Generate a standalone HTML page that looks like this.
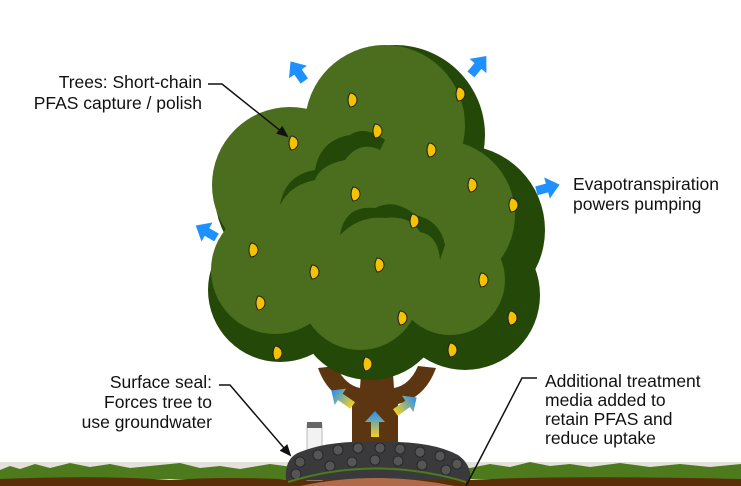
<!DOCTYPE html>
<html><head><style>
html,body{margin:0;padding:0;background:#fff;}
svg{display:block;}
text{font-family:"Liberation Sans",Arial,sans-serif;font-size:17.5px;fill:#111;}
</style></head><body>
<svg width="741" height="486" viewBox="0 0 741 486" xmlns="http://www.w3.org/2000/svg">
<defs>
<linearGradient id="ga" x1="0" y1="0" x2="0" y2="1"><stop offset="0" stop-color="#1e90ff"/><stop offset="1" stop-color="#f5d020"/></linearGradient>
<marker id="ah" markerWidth="12" markerHeight="10" refX="10" refY="5" orient="auto" markerUnits="userSpaceOnUse"><path d="M0,0 L12,5 L0,10 z" fill="#111"/></marker>
<g id="bl"><path d="M0,-13 L11,0 L4.5,0 L4.5,11 L-4.5,11 L-4.5,0 L-11,0 z" fill="#1e90ff"/></g>
<g id="gr"><path d="M0,-13 L10,-2 L4,-2 L4,13 L-4,13 L-4,-2 L-10,-2 z" fill="url(#ga)"/></g>
<path id="lf" d="M0,-7 A7,7 0 0 1 0,7 Q-4,0 0,-7 z" fill="#f5c200" stroke="#222" stroke-width="1"/>
</defs>
<rect width="741" height="486" fill="#fff"/>
<!-- ground -->
<rect x="0" y="462" width="741" height="24" fill="#e4e0dc"/>
<path d="M0,470 L10,466 L20,469 L35,464 L50,468 L70,463 L90,467 L110,464 L130,468 L160,465 L180,463 L200,468 L220,466 L240,469 L270,464 L300,468 L470,468 L490,464 L510,467 L530,462 L550,466 L570,464 L590,467 L620,463 L650,467 L680,464 L710,467 L741,464 L741,479 L0,479 z" fill="#4e7a1e"/>
<path d="M0,479 Q100,475 170,480 Q230,476 300,480 L470,480 Q560,475 741,479 L741,486 L0,486 z" fill="#5a2e08"/>
<!-- trunk -->
<path d="M352,455 L352,402 Q328,396 318,368 L336,366 Q345,385 360,388 L362,360 L392,360 L394,388 Q410,385 418,366 L436,368 Q425,398 398,404 L398,455 z" fill="#5c3511"/>
<!-- canopy dark -->
<g fill="#234808">
<circle cx="395" cy="135" r="90"/>
<circle cx="300" cy="195" r="85"/>
<circle cx="460" cy="230" r="85"/>
<circle cx="280" cy="290" r="72"/>
<circle cx="370" cy="305" r="75"/>
<circle cx="465" cy="295" r="75"/>
<circle cx="370" cy="230" r="80"/>
</g>
<!-- canopy light -->
<g fill="#4a6e1e">
<circle cx="385" cy="125" r="80"/>
<circle cx="290" cy="185" r="78"/>
<circle cx="440" cy="215" r="75"/>
<circle cx="275" cy="270" r="64"/>
<circle cx="360" cy="290" r="60"/>
<circle cx="450" cy="280" r="55"/>
<circle cx="360" cy="225" r="70"/>
</g>
<!-- inner dark scallops -->
<path d="M280,205 Q285,175 315,170 Q320,140 350,135 Q365,125 385,140 L380,150 Q360,140 345,160 Q320,165 315,180 Q290,185 280,205z" fill="#234808"/>
<path d="M340,235 Q345,205 375,208 Q395,198 415,215 Q440,220 445,245 L440,260 Q438,235 420,232 Q410,215 385,218 Q360,215 340,235z" fill="#234808"/>
<!-- leaves -->
<g>
<use href="#lf" x="350" y="100"/><use href="#lf" x="458" y="94"/><use href="#lf" x="291" y="143"/>
<use href="#lf" x="375" y="131"/><use href="#lf" x="429" y="150"/><use href="#lf" x="353" y="194"/>
<use href="#lf" x="470" y="185"/><use href="#lf" x="511" y="205"/><use href="#lf" x="412" y="221"/>
<use href="#lf" x="251" y="250"/><use href="#lf" x="312" y="272"/><use href="#lf" x="377" y="265"/>
<use href="#lf" x="481" y="280"/><use href="#lf" x="258" y="303"/><use href="#lf" x="400" y="318"/>
<use href="#lf" x="510" y="318"/><use href="#lf" x="275" y="353"/><use href="#lf" x="365" y="364"/>
<use href="#lf" x="450" y="350"/>
</g>
<!-- gradient arrows in trunk -->
<use href="#gr" transform="translate(375,424)"/>
<use href="#gr" transform="translate(342,398) rotate(-55)"/>
<use href="#gr" transform="translate(406,405) rotate(55)"/>
<!-- blue arrows -->
<use href="#bl" transform="translate(298,72) rotate(-35)"/>
<use href="#bl" transform="translate(478,66) rotate(40)"/>
<use href="#bl" transform="translate(547,188) rotate(75)"/>
<use href="#bl" transform="translate(207,232) rotate(-60)"/>
<!-- pipe -->
<rect x="307" y="425" width="15" height="55" fill="#f2f2f2" stroke="#bbb"/>
<rect x="307" y="422" width="15" height="6" fill="#666"/>
<!-- rocks -->
<path d="M286,480 Q284,458 300,452 Q330,440 375,442 Q430,440 458,455 Q472,465 470,480 z" fill="#3a3a3c"/>
<g fill="#555" stroke="#222" stroke-width="0.8">
<circle cx="300" cy="462" r="5"/><circle cx="318" cy="455" r="5"/><circle cx="338" cy="450" r="5"/><circle cx="358" cy="448" r="5"/><circle cx="380" cy="448" r="5"/><circle cx="400" cy="449" r="5"/><circle cx="420" cy="452" r="5"/><circle cx="440" cy="456" r="5"/><circle cx="457" cy="464" r="5"/>
<circle cx="296" cy="474" r="5"/><circle cx="330" cy="466" r="5"/><circle cx="352" cy="462" r="5"/><circle cx="375" cy="460" r="5"/><circle cx="398" cy="461" r="5"/><circle cx="422" cy="465" r="5"/><circle cx="446" cy="470" r="5"/>
</g>
<path d="M288,482 Q375,455 466,482" fill="none" stroke="#4e7a1e" stroke-width="2"/>
<path d="M300,486 Q375,470 455,486 z" fill="#b06a4a"/>
<!-- labels -->
<text x="202" y="88" text-anchor="end">Trees: Short-chain</text>
<text x="202" y="109" text-anchor="end">PFAS capture / polish</text>
<polyline points="208,84 222,84 287,136" fill="none" stroke="#111" stroke-width="1.5" marker-end="url(#ah)"/>
<text x="573" y="190">Evapotranspiration</text>
<text x="573" y="210">powers pumping</text>
<text x="212" y="388" text-anchor="end">Surface seal:</text>
<text x="212" y="408" text-anchor="end">Forces tree to</text>
<text x="212" y="428" text-anchor="end">use groundwater</text>
<polyline points="219,385 230,385 290,455" fill="none" stroke="#111" stroke-width="1.5" marker-end="url(#ah)"/>
<text x="545" y="387">Additional treatment</text>
<text x="545" y="406">media added to</text>
<text x="545" y="425">retain PFAS and</text>
<text x="545" y="444">reduce uptake</text>
<polyline points="537,378 522,378 466,486" fill="none" stroke="#111" stroke-width="1.5"/>
</svg>
</body></html>
